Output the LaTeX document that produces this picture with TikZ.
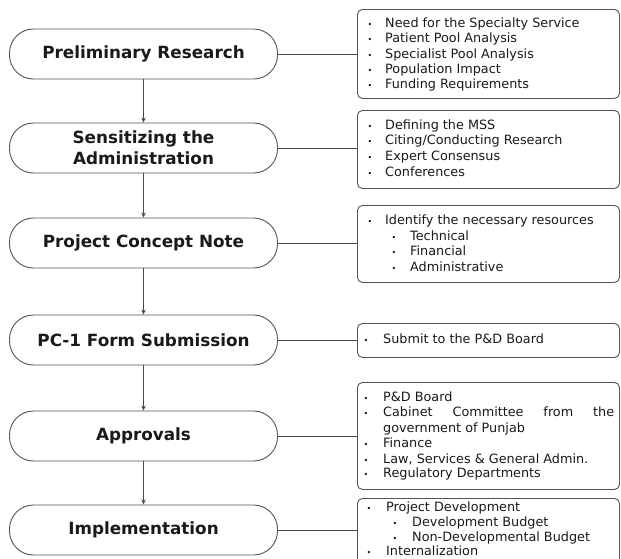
\documentclass[tikz,border=0pt]{standalone}
\usepackage{fontspec}
\setmainfont{DejaVu Sans}
\usetikzlibrary{arrows.meta}
\definecolor{pillc}{HTML}{4E565C}
\definecolor{linec}{HTML}{4A4A4A}
\definecolor{txtc}{HTML}{1A1A1A}
\begin{document}
\begin{tikzpicture}[x=1pt,y=-1pt,
  pill/.style={draw=pillc, line width=0.9pt, rounded corners=24pt, minimum width=268pt, minimum height=50pt,
    font=\bfseries\fontsize{16.8}{21}\selectfont, text=txtc, align=center, inner sep=0pt},
  infobox/.style={draw=pillc, line width=0.9pt, rounded corners=5pt, inner sep=0pt, anchor=north west},
  item/.style={anchor=base west, inner sep=0pt, text=txtc, font=\fontsize{12.8}{15}\selectfont},
  bul/.style={anchor=base, inner sep=0pt, text=txtc, font=\fontsize{8}{10}\selectfont},
  link/.style={draw=linec, line width=0.9pt},
  flow/.style={link, -{Stealth[length=5pt,width=4.5pt]}}]
\clip (0,0) rectangle (621,558);
\fill[white] (0,0) rectangle (621,558);

% left pills
\node[pill] (p1) at (143.5,54) {Preliminary Research};
\node[pill] (p2) at (143.5,148) {Sensitizing the\\Administration};
\node[pill] (p3) at (143.5,243) {Project Concept Note};
\node[pill] (p4) at (143.5,340) {PC-1 Form Submission};
\node[pill] (p5) at (143.5,436) {Approvals};
\node[pill] (p6) at (143.5,530) {Implementation};

\draw[flow] (p1) -- (p2);
\draw[flow] (p2) -- (p3);
\draw[flow] (p3) -- (p4);
\draw[flow] (p4) -- (p5);
\draw[flow] (p5) -- (p6);

% right boxes
\node[infobox, minimum width=262pt, minimum height=89pt] (b1) at (357,9) {};
\node[infobox, minimum width=262pt, minimum height=78pt] (b2) at (357,110) {};
\node[infobox, minimum width=262pt, minimum height=77pt] (b3) at (357,205) {};
\node[infobox, minimum width=262pt, minimum height=34pt] (b4) at (357,323) {};
\node[infobox, minimum width=262pt, minimum height=107pt] (b5) at (357,382) {};
\node[infobox, minimum width=262pt, minimum height=80pt] (b6) at (357,498) {};

\foreach \n in {1,...,6} \draw[link] (p\n.east) -- (p\n.east -| b\n.west);

% box 1
\foreach \y/\t [count=\i] in {27.5/Need for the Specialty Service, 42.8/Patient Pool Analysis,
  58/Specialist Pool Analysis, 73.3/Population Impact, 88.5/Funding Requirements}
  {\node[bul] (d1\i) at (370,\y) {•}; \node[item] (t1\i) at (385,\y) {\t};}
% box 2
\foreach \y/\t [count=\i] in {129.5/Defining the MSS, 144.8/{Citing/Conducting Research},
  160.3/Expert Consensus, 176/Conferences}
  {\node[bul] (d2\i) at (370,\y) {•}; \node[item] (t2\i) at (385,\y) {\t};}
% box 3
\node[bul] (d31) at (370,224.5) {•}; \node[item] (t31) at (385,224.5) {Identify the necessary resources};
\foreach \y/\t [count=\i from 2] in {240/Technical, 255.5/Financial, 271/Administrative}
  {\node[bul] (d3\i) at (394,\y) {•}; \node[item] (t3\i) at (410,\y) {\t};}
% box 4
\node[bul] (d41) at (366,343.5) {•}; \node[item] (t41) at (383,343.5) {Submit to the P\&D Board};
% box 5
\node[bul] (d51) at (366,401.5) {•}; \node[item] (t51) at (383,401.5) {P\&D Board};
\node[bul] (d52) at (366,416.5) {•}; \node[item] (t52) at (383,416.5) {\makebox[231pt][s]{Cabinet Committee from the}};
\node[item] (t53) at (383,432) {government of Punjab};
\node[bul] (d54) at (366,447.5) {•}; \node[item] (t54) at (383,447.5) {Finance};
\node[bul] (d55) at (366,463) {•}; \node[item] (t55) at (383,463) {Law, Services \& General Admin.};
\node[bul] (d56) at (366,477.5) {•}; \node[item] (t56) at (383,477.5) {Regulatory Departments};
% box 6
\node[bul] (d61) at (369,511) {•}; \node[item] (t61) at (386,511) {Project Development};
\node[bul] (d62) at (395,526.5) {•}; \node[item] (t62) at (412,526.5) {Development Budget};
\node[bul] (d63) at (395,541.5) {•}; \node[item] (t63) at (412,541.5) {Non-Developmental Budget};
\node[bul] (d64) at (369,555) {•}; \node[item] (t64) at (386,555) {Internalization};
\end{tikzpicture}
\end{document}
